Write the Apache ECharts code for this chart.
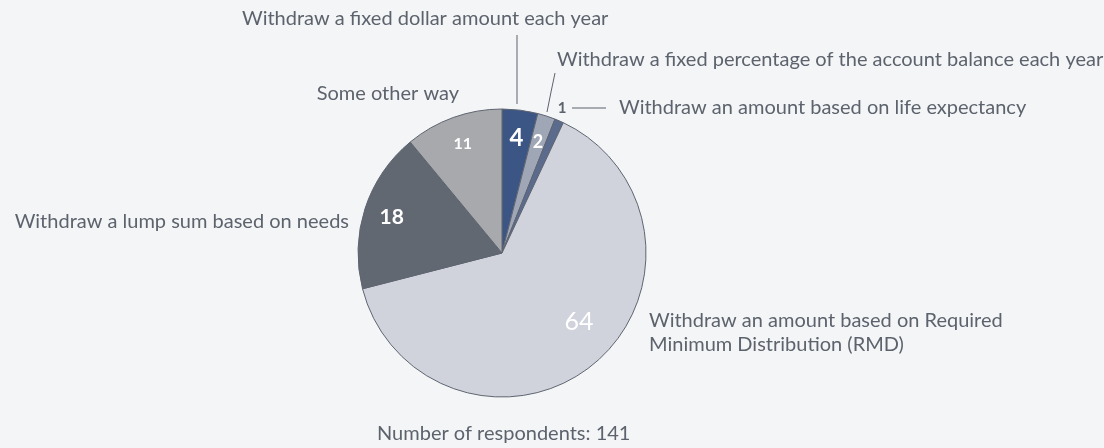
<!DOCTYPE html>
<html>
<head>
<meta charset="utf-8">
<script src="https://cdn.jsdelivr.net/npm/echarts@6/dist/echarts.min.js"></script>
<style>
    html, body { margin: 0; padding: 0; background: #f4f5f7; }
    #chart { width: 1104px; height: 448px; }
</style>
</head>
<body>
<div id="chart"></div>
<script>
// withdrawal methods, clockwise from 12 o'clock
var methods = [
    'Withdraw a fixed dollar amount each year',
    'Withdraw a fixed percentage of the account balance each year',
    'Withdraw an amount based on life expectancy',
    'Withdraw an amount based on Required\nMinimum Distribution (RMD)',
    'Withdraw a lump sum based on needs',
    'Some other way'
];
var shares = [4, 2, 1, 64, 18, 11];
var respondents = 141;

var colors = ['#3b5584', '#9fa6b6', '#5b6b8d', '#d0d3dc', '#626872', '#a8a9ad'];
var textColor = '#5d636d';
var center = [502, 253];

// where the method names sit (label layout only)
var nameSpots = [
    { x: 242, y: 19, align: 'left', line: [[517, 35], [517, 70], [517, 104]] },
    { x: 557, y: 60, align: 'left', line: [[555, 73], [551, 92], [547, 112]] },
    { x: 619, y: 108, align: 'left', line: [[572, 108], [590, 108], [606, 108]] },
    { x: 649, y: 333, align: 'left' },
    { x: 349, y: 222, align: 'right' },
    { x: 459, y: 94, align: 'right' }
];
// value label look per slice
var valueStyle = [
    { fontSize: 24, fontWeight: 'bold', color: '#fff' },
    { fontSize: 18, fontWeight: 'bold', color: '#fff' },
    { fontSize: 15, fontWeight: 'bold', color: textColor },
    { fontSize: 25, fontWeight: 'normal', color: '#fff' },
    { fontSize: 21, fontWeight: 'bold', color: '#fff' },
    { fontSize: 16, fontWeight: 'bold', color: '#fff' }
];

var chart = echarts.init(document.getElementById('chart'));

chart.setOption({
    backgroundColor: '#f4f5f7',
    animation: false,
    textStyle: { fontFamily: 'Lato' },
    title: {
        text: 'Number of respondents: ' + respondents,
        left: 377,
        top: 424,
        padding: 0,
        textStyle: { fontFamily: 'Lato', fontSize: 20, fontWeight: 'normal', color: textColor }
    },
    series: [
        {
            type: 'pie',
            center: center,
            radius: 144,
            startAngle: 90,
            clockwise: true,
            avoidLabelOverlap: false,
            silent: true,
            itemStyle: { borderColor: '#5f6570', borderWidth: 1 },
            label: {
                show: true,
                position: 'outside',
                formatter: '{b}',
                fontFamily: 'Lato',
                fontSize: 20,
                lineHeight: 24,
                color: textColor
            },
            labelLine: { show: true, lineStyle: { color: textColor, width: 1 } },
            labelLayout: function (p) {
                var s = nameSpots[p.dataIndex];
                var out = { x: s.x, y: s.y, align: s.align, verticalAlign: 'middle' };
                if (s.line) out.labelLinePoints = s.line;
                return out;
            },
            data: methods.map(function (m, i) {
                return {
                    name: m,
                    value: shares[i],
                    itemStyle: { color: colors[i] },
                    labelLine: { show: !!nameSpots[i].line }
                };
            })
        },
        {
            type: 'pie',
            center: center,
            radius: [82, 144],
            startAngle: 90,
            clockwise: true,
            avoidLabelOverlap: false,
            silent: true,
            itemStyle: { color: 'rgba(0,0,0,0)', borderWidth: 0 },
            label: {
                show: true,
                position: 'inside',
                formatter: '{c}',
                fontFamily: 'Lato'
            },
            labelLine: { show: false },
            labelLayout: function (p) {
                if (p.dataIndex === 2) return { x: 562, y: 108, align: 'center', verticalAlign: 'middle' };
                if (p.dataIndex === 3) return { dx: 3, dy: -20 };
                return {};
            },
            data: shares.map(function (v, i) {
                return {
                    name: methods[i],
                    value: v,
                    label: valueStyle[i]
                };
            })
        }
    ]
});
</script>
</body>
</html>
